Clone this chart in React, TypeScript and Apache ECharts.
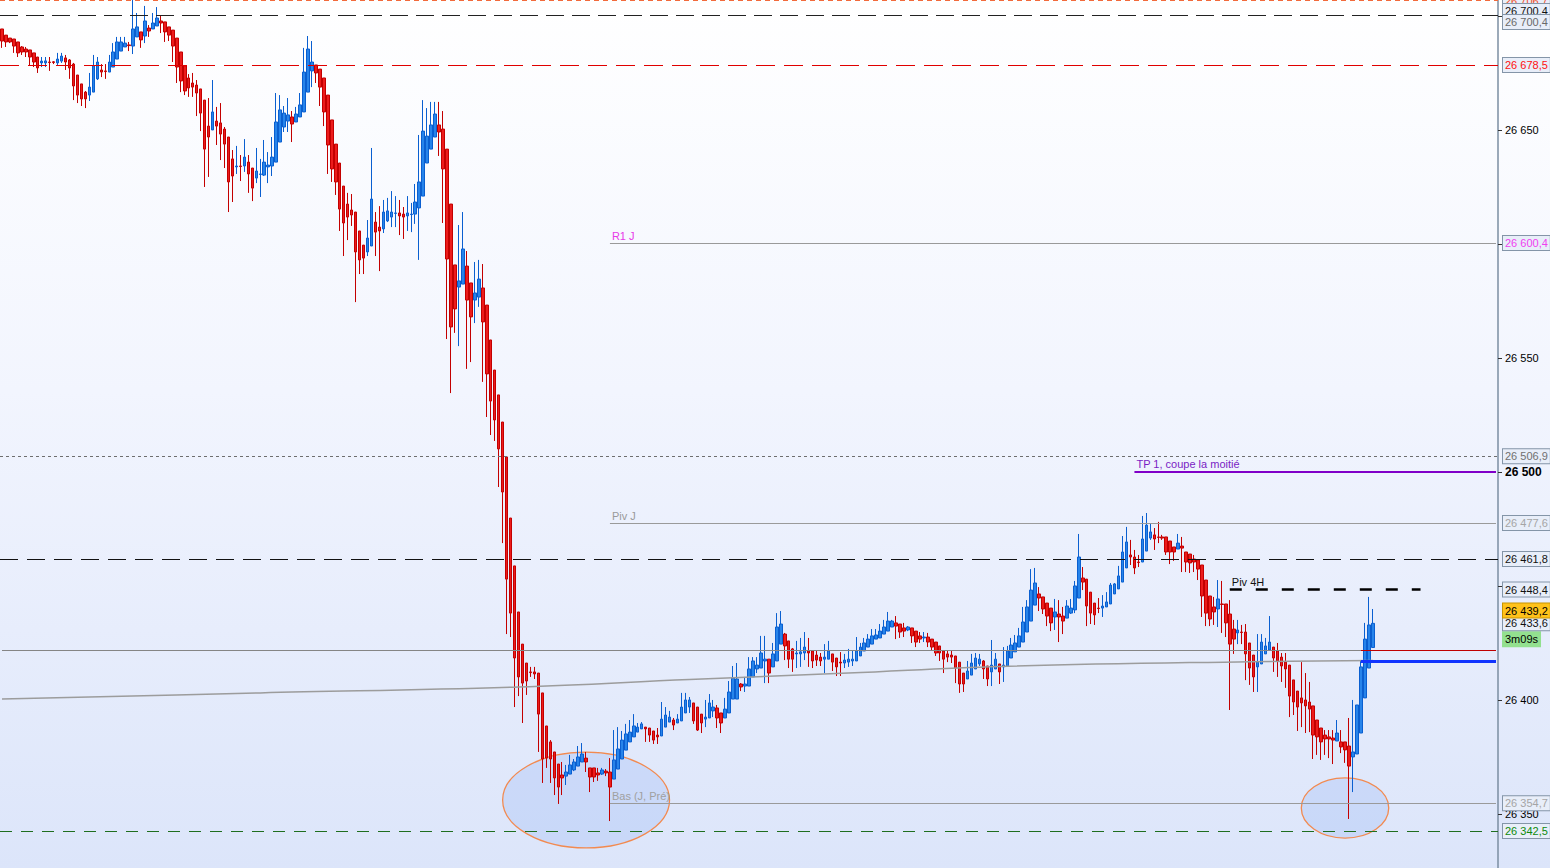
import React, { useEffect, useRef } from 'react';
import * as echarts from 'echarts';

// ---------- data ----------
const SLOT_COUNT = 377; // bar slots across the plot (last ones empty, right margin)
const slots: string[] = Array.from({ length: SLOT_COUNT }, (_, i) => String(i));

// [open, close, low, high]
const candles: number[][] = [
  [26694.3, 26689.0, 26686.0, 26694.3], [26691.6, 26688.6, 26686.4, 26691.6], [26690.3, 26688.6, 26688.1, 26690.3], [26689.9, 26686.8, 26683.8, 26689.9],
  [26688.6, 26683.8, 26682.0, 26688.6], [26686.4, 26684.2, 26682.9, 26686.8], [26685.5, 26684.2, 26682.0, 26686.4], [26685.1, 26682.0, 26678.1, 26685.1],
  [26683.8, 26679.8, 26677.6, 26683.8], [26682.0, 26677.2, 26675.0, 26682.0], [26679.4, 26680.2, 26677.6, 26682.0], [26679.4, 26680.3, 26677.6, 26682.0],
  [26679.8, 26679.6, 26675.9, 26682.0], [26679.9, 26679.6, 26678.9, 26680.2], [26679.4, 26681.1, 26678.5, 26683.8], [26680.2, 26682.4, 26679.4, 26683.8],
  [26681.6, 26679.8, 26676.3, 26682.9], [26680.7, 26677.2, 26672.4, 26681.1], [26678.9, 26669.3, 26663.1, 26679.4], [26674.1, 26665.3, 26661.8, 26674.1],
  [26670.2, 26663.6, 26660.5, 26670.2], [26666.6, 26663.6, 26659.6, 26667.1], [26665.3, 26668.8, 26662.7, 26675.0], [26666.6, 26678.1, 26666.6, 26682.9],
  [26672.4, 26679.8, 26671.9, 26682.0], [26676.3, 26675.4, 26673.2, 26678.9], [26675.9, 26675.6, 26672.4, 26678.9], [26675.4, 26679.8, 26675.4, 26682.9],
  [26677.6, 26684.2, 26677.6, 26688.1], [26681.1, 26688.6, 26681.1, 26690.8], [26684.6, 26688.6, 26684.6, 26690.8], [26686.4, 26688.1, 26686.4, 26690.8],
  [26687.3, 26687.0, 26684.6, 26688.6], [26686.8, 26694.3, 26683.3, 26707.0], [26690.8, 26695.2, 26690.8, 26701.3], [26693.0, 26689.5, 26686.0, 26693.0],
  [26691.2, 26697.8, 26688.1, 26704.4], [26694.7, 26693.4, 26690.8, 26696.0], [26694.3, 26696.9, 26694.3, 26701.3], [26695.6, 26699.1, 26695.6, 26703.9],
  [26697.8, 26696.9, 26692.5, 26700.4], [26697.4, 26693.0, 26688.6, 26697.4], [26695.2, 26691.6, 26689.0, 26695.2], [26693.8, 26686.8, 26679.8, 26693.8],
  [26690.3, 26677.6, 26670.6, 26690.3], [26684.2, 26671.5, 26666.6, 26684.2], [26678.1, 26667.1, 26665.3, 26678.1], [26672.8, 26668.4, 26664.5, 26674.5],
  [26670.6, 26668.8, 26664.5, 26675.0], [26669.7, 26666.2, 26656.1, 26671.9], [26668.0, 26657.4, 26649.5, 26668.0], [26663.1, 26641.6, 26625.0, 26663.1],
  [26651.7, 26646.9, 26629.4, 26664.0], [26650.0, 26657.9, 26650.0, 26671.9], [26653.9, 26651.7, 26643.4, 26660.1], [26653.1, 26648.2, 26636.8, 26661.8],
  [26650.4, 26643.8, 26633.3, 26651.3], [26646.9, 26627.2, 26614.0, 26646.9], [26637.3, 26629.8, 26618.4, 26641.2], [26633.8, 26634.2, 26630.7, 26643.0],
  [26634.2, 26634.0, 26627.6, 26639.0], [26634.2, 26638.1, 26631.6, 26646.0], [26635.9, 26630.7, 26622.4, 26639.0], [26633.3, 26624.5, 26618.8, 26633.3],
  [26628.9, 26632.0, 26626.7, 26642.1], [26630.5, 26630.7, 26620.6, 26637.3], [26630.2, 26635.9, 26629.8, 26645.6], [26633.8, 26634.6, 26626.7, 26640.3],
  [26634.2, 26638.1, 26629.8, 26646.9], [26635.9, 26653.5, 26635.9, 26666.2], [26644.7, 26658.8, 26644.7, 26665.3], [26651.3, 26657.4, 26649.1, 26660.5],
  [26653.9, 26656.6, 26649.1, 26664.0], [26655.7, 26652.6, 26644.7, 26658.3], [26653.5, 26657.0, 26653.5, 26660.1], [26655.7, 26661.0, 26655.7, 26666.2],
  [26657.9, 26675.4, 26657.9, 26686.0], [26666.6, 26685.5, 26666.6, 26691.2], [26675.9, 26679.8, 26668.8, 26689.0], [26678.5, 26675.0, 26670.6, 26678.5],
  [26676.7, 26668.8, 26660.5, 26676.7], [26672.8, 26657.9, 26651.7, 26672.8], [26665.3, 26643.4, 26630.7, 26665.3], [26654.4, 26632.9, 26627.2, 26654.4],
  [26643.8, 26627.2, 26621.5, 26643.8], [26635.5, 26615.3, 26605.7, 26635.5], [26625.4, 26609.2, 26594.7, 26625.4], [26617.5, 26611.8, 26601.7, 26622.4],
  [26614.9, 26612.7, 26607.9, 26621.9], [26614.0, 26596.5, 26574.5, 26614.0], [26605.7, 26593.0, 26586.8, 26605.7], [26599.5, 26593.8, 26586.8, 26599.5],
  [26596.5, 26602.6, 26594.7, 26610.5], [26599.1, 26619.7, 26599.1, 26642.1], [26609.6, 26605.2, 26594.7, 26614.0], [26607.4, 26605.7, 26588.1, 26616.6],
  [26606.6, 26614.0, 26604.8, 26619.3], [26610.1, 26614.5, 26609.6, 26620.2], [26611.8, 26614.0, 26607.4, 26623.2], [26613.4, 26613.6, 26607.4, 26621.0],
  [26613.6, 26612.3, 26603.9, 26619.3], [26613.1, 26611.8, 26602.2, 26616.2], [26612.3, 26613.6, 26605.7, 26621.0], [26612.9, 26613.1, 26605.2, 26618.0],
  [26613.1, 26618.4, 26608.8, 26626.3], [26615.8, 26627.2, 26593.0, 26647.8], [26621.0, 26649.5, 26621.0, 26663.1], [26635.5, 26647.3, 26635.5, 26659.6],
  [26641.6, 26652.2, 26641.6, 26662.3], [26646.9, 26657.0, 26646.9, 26662.3], [26652.2, 26649.1, 26638.6, 26662.3], [26650.4, 26632.9, 26609.2, 26658.3],
  [26641.6, 26593.4, 26558.3, 26641.6], [26617.5, 26563.6, 26534.6, 26617.5], [26590.8, 26571.5, 26561.0, 26590.8], [26581.1, 26583.8, 26555.2, 26608.3],
  [26582.4, 26597.8, 26582.4, 26614.0], [26590.3, 26575.4, 26545.2, 26596.9], [26582.9, 26568.0, 26548.2, 26582.9], [26575.4, 26578.5, 26565.3, 26592.1],
  [26576.7, 26584.6, 26572.4, 26593.0], [26580.7, 26565.8, 26539.5, 26591.2], [26573.2, 26543.0, 26524.1, 26573.2], [26557.9, 26531.1, 26516.2, 26557.9],
  [26544.7, 26522.8, 26513.6, 26544.7], [26533.8, 26510.1, 26493.4, 26533.8], [26521.9, 26491.2, 26468.8, 26521.9], [26506.6, 26453.0, 26428.9, 26506.6],
  [26479.8, 26438.1, 26427.6, 26479.8], [26458.8, 26418.4, 26396.9, 26458.8], [26438.6, 26410.1, 26401.7, 26438.6], [26424.5, 26407.4, 26389.9, 26424.5],
  [26416.2, 26408.3, 26402.2, 26416.2], [26412.3, 26412.0, 26410.1, 26414.5], [26412.3, 26411.4, 26409.2, 26414.5], [26411.8, 26393.8, 26377.2, 26411.8],
  [26403.1, 26374.1, 26363.6, 26403.1], [26388.6, 26374.5, 26370.2, 26388.6], [26381.6, 26374.1, 26363.6, 26382.4], [26377.2, 26365.8, 26358.3, 26377.2],
  [26371.9, 26361.8, 26354.4, 26371.9], [26367.1, 26365.8, 26358.3, 26372.8], [26366.6, 26368.4, 26362.7, 26371.5], [26367.5, 26371.5, 26367.5, 26375.9],
  [26369.3, 26372.8, 26368.8, 26374.1], [26371.0, 26375.0, 26371.0, 26379.8], [26372.8, 26376.3, 26372.8, 26381.1], [26374.5, 26372.8, 26368.4, 26377.2],
  [26370.2, 26366.2, 26359.6, 26370.2], [26370.2, 26366.2, 26364.0, 26370.2], [26368.0, 26367.1, 26364.5, 26370.2], [26367.5, 26369.3, 26367.1, 26370.2],
  [26368.8, 26368.0, 26366.6, 26369.7], [26368.4, 26361.8, 26346.9, 26374.5], [26365.3, 26373.7, 26365.3, 26386.8], [26369.7, 26378.5, 26369.7, 26388.1],
  [26374.1, 26382.4, 26374.1, 26386.4], [26378.0, 26385.1, 26378.0, 26389.5], [26381.6, 26385.9, 26381.6, 26391.2], [26383.8, 26388.6, 26383.8, 26393.8],
  [26385.9, 26388.1, 26385.9, 26389.9], [26387.3, 26389.5, 26387.3, 26390.3], [26388.1, 26387.3, 26381.6, 26388.1], [26387.7, 26384.6, 26381.6, 26387.7],
  [26386.4, 26382.4, 26380.7, 26386.4], [26384.6, 26383.8, 26380.7, 26387.7], [26384.2, 26391.6, 26384.2, 26399.1], [26388.1, 26393.4, 26388.1, 26396.9],
  [26390.3, 26392.5, 26390.3, 26395.2], [26391.2, 26389.0, 26386.8, 26392.1], [26389.9, 26391.6, 26389.9, 26393.8], [26390.8, 26396.9, 26390.8, 26403.1],
  [26394.3, 26400.0, 26394.3, 26403.1], [26396.9, 26400.0, 26394.3, 26401.3], [26398.7, 26390.8, 26389.5, 26398.7], [26396.9, 26386.8, 26386.4, 26396.9],
  [26393.8, 26389.9, 26385.5, 26393.8], [26391.6, 26392.5, 26388.1, 26400.0], [26392.1, 26398.7, 26392.1, 26402.6], [26395.2, 26396.9, 26392.5, 26400.0],
  [26396.5, 26392.1, 26387.7, 26397.8], [26394.3, 26389.9, 26385.5, 26394.3], [26392.1, 26396.0, 26392.1, 26400.9], [26394.3, 26403.5, 26394.3, 26408.3],
  [26400.4, 26409.6, 26400.4, 26414.9], [26400.4, 26409.2, 26400.4, 26416.2], [26407.0, 26405.7, 26403.9, 26407.4], [26406.1, 26407.0, 26403.5, 26410.1],
  [26406.1, 26413.6, 26406.1, 26418.8], [26410.1, 26417.1, 26410.1, 26418.8], [26413.6, 26415.3, 26411.8, 26418.8], [26414.0, 26420.6, 26414.0, 26428.1],
  [26417.1, 26417.9, 26407.4, 26428.1], [26417.9, 26411.8, 26407.4, 26417.9], [26414.5, 26420.2, 26414.5, 26425.0], [26417.1, 26432.0, 26417.1, 26438.1],
  [26424.5, 26433.3, 26424.5, 26439.0], [26428.9, 26423.7, 26417.5, 26429.4], [26425.9, 26417.9, 26414.0, 26425.9], [26422.4, 26417.9, 26412.3, 26422.8],
  [26420.2, 26420.6, 26414.0, 26425.9], [26420.2, 26421.1, 26414.5, 26427.2], [26420.6, 26423.2, 26417.5, 26429.8], [26421.5, 26420.6, 26414.5, 26427.2],
  [26421.5, 26417.1, 26414.0, 26421.5], [26419.7, 26417.5, 26414.9, 26421.5], [26418.8, 26417.1, 26414.9, 26420.6], [26417.9, 26418.8, 26411.8, 26424.5],
  [26417.9, 26421.5, 26417.9, 26425.9], [26420.2, 26416.6, 26412.7, 26420.2], [26418.4, 26414.5, 26410.5, 26418.4], [26416.6, 26416.2, 26410.5, 26421.0],
  [26416.2, 26417.5, 26414.0, 26420.2], [26416.6, 26417.9, 26414.5, 26422.4], [26417.1, 26417.9, 26414.9, 26421.9], [26417.1, 26421.5, 26417.1, 26427.6],
  [26419.3, 26423.2, 26419.3, 26425.0], [26421.5, 26425.0, 26421.5, 26427.2], [26423.2, 26426.7, 26423.2, 26428.9], [26424.5, 26428.1, 26424.5, 26431.1],
  [26426.7, 26428.5, 26426.7, 26431.1], [26427.2, 26430.2, 26427.2, 26433.3], [26428.9, 26432.0, 26428.9, 26435.1], [26430.2, 26434.6, 26430.2, 26438.6],
  [26432.0, 26434.6, 26432.0, 26435.1], [26433.8, 26432.4, 26426.7, 26436.8], [26433.3, 26429.8, 26427.2, 26433.3], [26431.6, 26430.2, 26427.6, 26433.8],
  [26430.7, 26432.0, 26430.2, 26432.4], [26431.6, 26428.1, 26425.0, 26431.6], [26430.2, 26425.4, 26423.2, 26430.2], [26428.1, 26426.7, 26425.0, 26429.8],
  [26427.2, 26427.6, 26425.4, 26429.8], [26427.6, 26425.4, 26423.2, 26429.4], [26426.7, 26423.2, 26421.9, 26426.7], [26425.4, 26420.6, 26419.3, 26425.4],
  [26423.7, 26420.6, 26417.1, 26423.7], [26421.5, 26417.9, 26411.8, 26421.5], [26420.2, 26418.8, 26416.6, 26421.5], [26419.7, 26418.8, 26416.2, 26421.5],
  [26419.3, 26414.0, 26407.4, 26419.3], [26416.6, 26407.0, 26403.1, 26416.6], [26411.8, 26407.0, 26403.5, 26411.8], [26409.2, 26412.7, 26409.2, 26417.1],
  [26410.9, 26416.2, 26410.9, 26420.2], [26413.6, 26418.4, 26413.6, 26420.6], [26415.8, 26417.9, 26414.9, 26420.2], [26417.1, 26413.6, 26409.2, 26417.5],
  [26414.9, 26409.2, 26406.1, 26414.9], [26412.3, 26415.3, 26406.1, 26426.3], [26413.6, 26417.9, 26413.6, 26420.6], [26415.8, 26412.3, 26407.0, 26415.8],
  [26414.5, 26415.3, 26407.9, 26423.2], [26414.9, 26421.5, 26414.9, 26423.7], [26418.4, 26424.1, 26418.4, 26427.2], [26421.1, 26425.0, 26421.1, 26428.5],
  [26423.2, 26428.1, 26423.2, 26431.6], [26425.4, 26434.2, 26425.4, 26440.8], [26429.8, 26440.8, 26429.8, 26443.8], [26434.6, 26448.2, 26434.6, 26457.4],
  [26441.6, 26451.3, 26441.6, 26457.9], [26446.5, 26444.7, 26439.0, 26449.5], [26445.2, 26439.9, 26437.7, 26445.2], [26442.5, 26436.8, 26432.4, 26442.5],
  [26440.3, 26433.8, 26430.2, 26440.3], [26436.4, 26438.6, 26430.7, 26444.3], [26437.7, 26436.4, 26425.4, 26443.8], [26436.8, 26434.6, 26428.9, 26440.8],
  [26435.9, 26441.2, 26435.9, 26443.8], [26438.1, 26440.3, 26437.7, 26444.3], [26439.5, 26450.0, 26438.1, 26452.2], [26444.7, 26462.7, 26444.7, 26472.8],
  [26453.5, 26451.7, 26448.2, 26458.3], [26453.0, 26441.2, 26432.4, 26453.0], [26447.3, 26438.1, 26433.3, 26447.3], [26442.5, 26437.3, 26432.9, 26442.5],
  [26440.3, 26440.1, 26438.1, 26444.7], [26440.3, 26441.2, 26436.4, 26446.0], [26440.8, 26443.0, 26440.8, 26447.3], [26442.1, 26450.4, 26442.1, 26451.3],
  [26446.5, 26450.9, 26446.5, 26451.3], [26448.7, 26454.4, 26448.7, 26458.8], [26451.7, 26464.9, 26451.7, 26471.9], [26457.9, 26469.3, 26457.9, 26475.9],
  [26463.6, 26462.7, 26459.2, 26470.2], [26462.7, 26457.9, 26455.2, 26465.8], [26460.5, 26460.3, 26458.3, 26463.6], [26460.5, 26470.6, 26460.5, 26480.7],
  [26465.3, 26476.7, 26465.3, 26482.0], [26471.0, 26473.7, 26470.2, 26477.2], [26472.4, 26470.6, 26465.8, 26475.4], [26471.5, 26471.3, 26468.8, 26478.1],
  [26471.5, 26471.0, 26470.2, 26472.4], [26471.5, 26464.9, 26463.6, 26471.5], [26469.7, 26464.9, 26459.6, 26469.7], [26467.1, 26464.9, 26461.0, 26467.1],
  [26466.2, 26468.8, 26466.2, 26472.8], [26467.5, 26466.6, 26456.1, 26471.5], [26464.9, 26460.5, 26456.1, 26464.9], [26464.0, 26460.1, 26455.7, 26464.0],
  [26461.8, 26460.5, 26456.1, 26463.6], [26461.4, 26457.4, 26452.6, 26461.4], [26459.2, 26445.6, 26436.4, 26459.2], [26452.6, 26438.1, 26432.4, 26452.6],
  [26445.6, 26435.5, 26432.4, 26445.6], [26440.8, 26438.6, 26432.9, 26445.2], [26439.9, 26444.3, 26432.0, 26452.6], [26442.1, 26441.9, 26429.4, 26452.2],
  [26442.1, 26433.8, 26427.6, 26442.1], [26437.7, 26424.5, 26395.6, 26443.8], [26431.1, 26426.7, 26420.2, 26435.1], [26429.4, 26430.7, 26424.5, 26435.1],
  [26429.8, 26429.6, 26424.5, 26432.9], [26429.8, 26420.2, 26408.7, 26433.3], [26425.0, 26414.0, 26406.6, 26425.0], [26419.7, 26410.1, 26403.5, 26419.7],
  [26414.5, 26416.6, 26403.5, 26428.9], [26415.8, 26425.4, 26415.8, 26428.9], [26420.2, 26423.7, 26420.2, 26427.2], [26421.9, 26425.4, 26421.9, 26436.8],
  [26423.2, 26418.4, 26412.3, 26423.2], [26421.5, 26417.1, 26410.1, 26425.0], [26418.8, 26414.9, 26407.9, 26420.6], [26416.6, 26413.6, 26405.3, 26420.6],
  [26415.3, 26401.7, 26392.5, 26415.3], [26408.8, 26399.1, 26393.4, 26408.8], [26403.9, 26396.9, 26386.4, 26403.9], [26400.9, 26398.7, 26388.1, 26416.6],
  [26400.0, 26397.4, 26385.5, 26411.8], [26399.1, 26396.0, 26385.9, 26407.9], [26397.4, 26384.6, 26374.1, 26397.4], [26391.2, 26383.8, 26375.9, 26391.2],
  [26387.7, 26381.6, 26373.7, 26387.7], [26384.6, 26382.9, 26375.9, 26386.8], [26383.8, 26382.9, 26374.5, 26386.8], [26383.3, 26382.4, 26371.9, 26386.8],
  [26382.0, 26385.5, 26382.0, 26391.2], [26381.6, 26379.4, 26376.7, 26386.8], [26381.6, 26378.1, 26372.4, 26381.6], [26379.8, 26371.0, 26347.8, 26392.1],
  [26375.0, 26377.2, 26359.6, 26400.0], [26376.3, 26397.8, 26376.3, 26397.8], [26385.5, 26414.5, 26385.5, 26417.5], [26400.9, 26426.7, 26400.9, 26433.8],
  [26414.0, 26432.9, 26414.0, 26445.2], [26423.0, 26433.6, 26423.0, 26439.9],
];

// long moving average, read at a few bars: [bar, value]
const maPoints: number[][] = [
  [0, 26400.4], [65, 26403.1], [130, 26405.7], [173, 26409.0], [213, 26411.8], [251, 26414.7], [314, 26416.8], [345, 26417.3],
];

// circled zones: [centre bar, centre price, half width in bars, half height in points]
const zones: number[][] = [
  [147.2, 26356.1, 20.4, 21.0],
  [337.7, 26352.6, 11.3, 13.2],
];

const yTickValues = [26350, 26400, 26450, 26500, 26550, 26600, 26650, 26700];
const yLabelValues = [26350, 26400, 26500, 26550, 26650];
const Y_MIN = 26326.3;
const Y_MAX = 26707.0;

// horizontal levels
const LVL_TOP = 26706.7;
const LVL_HIGH = 26700.4;
const LVL_RED = 26678.5;
const R1_J = 26600.4;
const LVL_DOT = 26506.9;
const TP_1 = 26500;
const PIV_J = 26477.6;
const LVL_BLACK = 26461.8;
const PIV_4H = 26448.4;
const ASK = 26439.2;
const LAST = 26433.6;
const REF_LINE = 26421.9;
const MA_NOW = 26417.1;
const BAS_J = 26354.7;
const LVL_GREEN = 26342.5;
const TIMER_TEXT = '3m09s';

// bar indices where annotation segments begin / end
const DAILY_START = 153;
const TP_START = 285;
const PIV4H_START = 309;
const PIV4H_END = 357;
const LIVE_START = 342;
const LAST_SLOT = SLOT_COUNT - 1;

// ---------- helpers ----------
const FONT = "'Liberation Sans', Arial, sans-serif";

const fmt = (v: number, d = 1): string => {
  const s = v.toFixed(d);
  const [ip, dp] = s.split('.');
  const grouped = ip.replace(/\B(?=(\d{3})+(?!\d))/g, ' ');
  return dp ? `${grouped},${dp}` : grouped;
};

const boxLabel = (text: string, color: string, extra: any = {}) => ({
  show: true,
  position: 'end',
  distance: 5,
  formatter: text,
  color,
  fontSize: 11,
  fontFamily: FONT,
  backgroundColor: '#e8eef9',
  borderColor: '#8495a8',
  borderWidth: 1,
  padding: [2, 2, 1, 2],
  ...extra,
});

const startLabel = (text: string, color: string) => ({
  show: true,
  position: 'insideStartTop',
  distance: 2,
  formatter: text,
  color,
  fontSize: 11,
  fontFamily: FONT,
});

// invisible line used only to carry an axis-side price box
const hidden = { color: 'rgba(0,0,0,0)', width: 1, type: 'solid' };

const fullLine = (v: number, lineStyle: any, label: any) => ({ yAxis: v, lineStyle, label });
const segment = (a: number, b: number, v: number, lineStyle: any, label: any = { show: false }) => [
  { coord: [slots[a], v], lineStyle, label },
  { coord: [slots[b], v] },
];

export default function App() {
  const ref = useRef<HTMLDivElement>(null);

  useEffect(() => {
    if (!ref.current) return;
    const chart = echarts.init(ref.current, null, { renderer: 'svg' });

    const markData: any[] = [
      // top orange dashed
      fullLine(LVL_TOP, { color: '#f26a3c', type: [5, 4], width: 1 }, boxLabel(fmt(LVL_TOP), '#f0502a')),
      // 26700.4 black dashed (two stacked labels)
      fullLine(LVL_HIGH, { color: '#222', type: [18, 8], width: 1 }, boxLabel(fmt(LVL_HIGH), '#111', { offset: [0, -4] })),
      fullLine(LVL_HIGH, hidden, boxLabel(fmt(LVL_HIGH), '#6a6a6a', { offset: [0, 7] })),
      // red dashed
      fullLine(LVL_RED, { color: '#e00000', type: [19, 9], width: 1 }, boxLabel(fmt(LVL_RED), '#ff1010')),
      // R1 J
      segment(DAILY_START, LAST_SLOT, R1_J, { color: '#9a9a9a', type: 'solid', width: 1 }, startLabel('R1 J', '#e83ae8')),
      fullLine(R1_J, hidden, boxLabel(fmt(R1_J), '#f040f0')),
      // dotted grey
      fullLine(LVL_DOT, { color: '#6e6e6e', type: [3, 3], width: 1 }, boxLabel(fmt(LVL_DOT), '#707070')),
      // TP 1
      segment(TP_START, LAST_SLOT, TP_1, { color: '#8000c8', type: 'solid', width: 2 }, startLabel('TP 1, coupe la moitié', '#7a1cc4')),
      // Piv J
      segment(DAILY_START, LAST_SLOT, PIV_J, { color: '#9a9a9a', type: 'solid', width: 1 }, startLabel('Piv J', '#9a9a9a')),
      fullLine(PIV_J, hidden, boxLabel(fmt(PIV_J), '#a5a5a5')),
      // black dashed
      fullLine(LVL_BLACK, { color: '#111', type: [18, 9], width: 1.2 }, boxLabel(fmt(LVL_BLACK), '#111')),
      // Piv 4H
      segment(PIV4H_START, PIV4H_END, PIV_4H, { color: '#000', type: [12, 14], width: 2.5 }, startLabel('Piv 4H', '#111')),
      fullLine(PIV_4H, hidden, boxLabel(fmt(PIV_4H), '#111')),
      // reference grey line + live red line
      segment(0, LIVE_START, REF_LINE, { color: '#858585', type: 'solid', width: 1 }),
      segment(LIVE_START, LAST_SLOT, REF_LINE, { color: '#c00000', type: 'solid', width: 1 }),
      // live blue line (moving average value)
      segment(LIVE_START, LAST_SLOT, MA_NOW, { color: '#1034ff', type: 'solid', width: 3 }),
      // Bas (J, Pré)
      segment(DAILY_START, LAST_SLOT, BAS_J, { color: '#9a9a9a', type: 'solid', width: 1 }, startLabel('Bas (J, Pré)', '#a0a0a0')),
      fullLine(BAS_J, hidden, boxLabel(fmt(BAS_J), '#a5a5a5')),
      // green dashed
      fullLine(LVL_GREEN, { color: '#1f6e1f', type: [12, 9], width: 1 }, boxLabel(fmt(LVL_GREEN), '#0c8a0c')),
      // ask / last / timer (drawn last so they sit on top)
      fullLine(LAST, hidden, boxLabel(TIMER_TEXT, '#000', { backgroundColor: '#93e08f', borderColor: '#93e08f', offset: [0, 16] })),
      fullLine(LAST, hidden, boxLabel(fmt(LAST), '#111')),
      fullLine(ASK, hidden, boxLabel(fmt(ASK), '#000', { backgroundColor: '#ffc21a', borderColor: '#c89400' })),
    ];

    const option: any = {
      animation: false,
      backgroundColor: 'transparent',
      grid: { left: 0, right: 52, top: 0, bottom: 0, containLabel: false },
      xAxis: {
        type: 'category',
        data: slots,
        boundaryGap: true,
        show: false,
      },
      yAxis: {
        type: 'value',
        position: 'right',
        min: Y_MIN,
        max: Y_MAX,
        splitLine: { show: false },
        axisLine: { show: true, lineStyle: { color: '#7b8ea2', width: 1.5 } },
        axisTick: { show: true, length: 4, customValues: yTickValues, lineStyle: { color: '#333' } },
        axisLabel: {
          customValues: yLabelValues,
          color: '#000',
          fontSize: 11,
          fontFamily: FONT,
          margin: 7,
          formatter: (v: number) => (v === TP_1 ? `{b|${fmt(v, 0)}}` : fmt(v, 0)),
          rich: { b: { fontWeight: 'bold', fontSize: 12, color: '#000', fontFamily: FONT } },
        },
      },
      series: [
        {
          type: 'custom',
          z: 1,
          silent: true,
          data: zones,
          encode: { x: 0, y: 1 },
          renderItem: (_params: any, api: any) => {
            const cx = api.value(0);
            const cy = api.value(1);
            const hw = api.value(2);
            const hh = api.value(3);
            const c = api.coord([cx, cy]);
            const e = api.coord([cx + hw, cy + hh]);
            return {
              type: 'ellipse',
              shape: { cx: c[0], cy: c[1], rx: Math.abs(e[0] - c[0]), ry: Math.abs(e[1] - c[1]) },
              style: { fill: 'rgba(160,188,245,0.32)', stroke: '#f28a50', lineWidth: 1.3 },
            };
          },
        },
        {
          type: 'candlestick',
          z: 3,
          data: candles,
          barWidth: 3,
          silent: true,
          itemStyle: {
            color: '#2784ea',
            color0: '#ec1c1c',
            borderColor: '#0a5fd0',
            borderColor0: '#c30000',
            borderWidth: 1,
          },
          markLine: {
            silent: true,
            symbol: ['none', 'none'],
            animation: false,
            emphasis: { disabled: true },
            data: markData,
          },
        },
        {
          type: 'line',
          z: 4,
          data: maPoints,
          smooth: 0.4,
          symbol: 'none',
          silent: true,
          lineStyle: { color: '#9c9c9c', width: 1.5 },
        },
      ],
    };

    chart.setOption(option);
    const onResize = () => chart.resize();
    window.addEventListener('resize', onResize);
    return () => {
      window.removeEventListener('resize', onResize);
      chart.dispose();
    };
  }, []);

  return (
    <div
      style={{
        position: 'fixed',
        left: 0,
        top: 0,
        width: '100vw',
        height: '100vh',
        background: 'linear-gradient(to bottom, #ffffff 0%, #f2f5fe 45%, #dce5fa 100%)',
      }}
    >
      <div ref={ref} style={{ width: '100%', height: '100%' }} />
    </div>
  );
}
